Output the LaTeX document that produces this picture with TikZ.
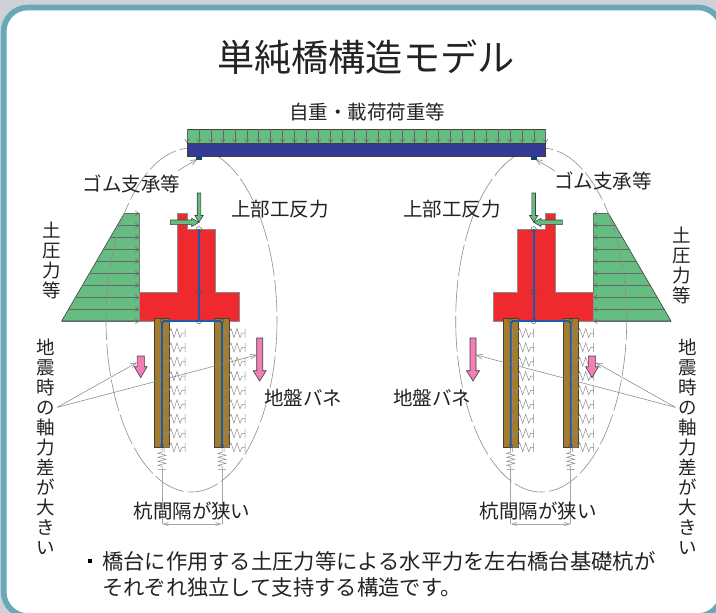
\documentclass[tikz,border=0pt]{standalone}
\usepackage{fontspec}
\usetikzlibrary{arrows.meta}
\newfontfamily\jpfont{Noto Sans CJK JP}
\definecolor{page_gray}{RGB}{207, 209, 216}
\definecolor{frame_teal}{RGB}{104, 168, 184}
\definecolor{load_green}{RGB}{102, 189, 130}
\definecolor{beam_blue}{RGB}{53, 58, 149}
\definecolor{shoe_blue}{RGB}{27, 63, 122}
\definecolor{abut_red}{RGB}{238, 42, 46}
\definecolor{pile_brown}{RGB}{164, 124, 44}
\definecolor{axis_blue}{RGB}{26, 90, 175}
\definecolor{quake_pink}{RGB}{241, 127, 181}
\definecolor{ink}{RGB}{35, 35, 35}
\tikzset{
  lbl/.style={text=ink,inner sep=0pt,font=\fontsize{19.5}{20}\jpfont},
  vlbl/.style={lbl,align=center,font=\fontsize{18.5}{20}\jpfont},
  body/.style={draw=black!75,line width=0.6pt},
  loadarrow/.style={draw=black!60,line width=0.5pt,-{Straight Barb[length=3.5pt,width=4.5pt]}},
  leader/.style={draw=black!50,line width=0.5pt,-{Straight Barb[length=6pt,width=5pt]}},
  spring/.style={draw=black!45,line width=0.5pt},
  dimline/.style={draw=black!35,line width=0.8pt},
  hinge/.style={draw=black!70,line width=0.4pt},
  hspring/.pic={\draw[spring] (2,-4.5)--(2,4.5) (2,0)--(7,0)--(9,-4.5)--(12,4.5)--(15,-4.5)--(18,4.5)--(20,0)--(23,0) (23,-4.5)--(23,4.5);},
  vspring/.pic={\draw[spring] (0,0)--(0,5)--(-4,6)--(4,8)--(-4,10)--(4,12)--(-4,14)--(4,16)--(-4,18)--(0,19)--(0,22) (-4,22)--(4,22);}
}
\newcommand{\abutment}{
  % earth pressure block
  \draw[body,fill=load_green] (124.3,213.3)--(139.3,213.3)--(139.3,321)--(61.7,321)--cycle;
  \foreach \i in {0,...,9}{
    \pgfmathsetmacro{\ys}{213.3+12*\i}
    \pgfmathsetmacro{\xs}{124.3-12*\i*0.5813}
    \draw[draw=black!60,line width=0.5pt] (\xs,\ys)--(139.3,\ys);
    \draw[loadarrow] (131,\ys)--(139.3,\ys);
  }
  \draw[draw=black!45,line width=0.6pt,dash pattern=on 32pt off 4pt] (191.5,320) ellipse [x radius=85.5,y radius=172];
  % abutment body
  \draw[draw=black!45,line width=0.5pt,fill=abut_red] (177.3,213.3)--(187.3,213.3)--(187.3,229.3)--(215.7,229.3)--(215.7,292.3)--(239.7,292.3)--(239.7,321)--(139.3,321)--(139.3,292.3)--(177.3,292.3)--cycle;
  % piles and springs
  \foreach \px in {162,222}{
    \draw[body,fill=pile_brown] (\px-7.5,318.3) rectangle (\px+7.2,447.3);
    \foreach \sy in {333,347.3,361.7,376,390.3,404.3,418.7,433.3,447.3}{
      \pic at (\px,\sy) {hspring};
    }
    \pic at (\px,447.3) {vspring};
    \draw[dimline] (\px,469.3)--(\px,524);
  }
  \draw[dimline,{Straight Barb[length=5pt,width=3pt]}-{Straight Barb[length=5pt,width=3pt]}] (162,524)--(222,524);
  % member axis
  \draw[draw=axis_blue,line width=1.8pt,rounded corners=2.5pt] (162,447)--(162,321)--(222,321)--(222,447);
  \draw[draw=axis_blue,line width=1.8pt] (199,229.3)--(199,321);
  \foreach \hx/\hy in {199/229.3,199/292.3,199/321}{
    \draw[hinge] (\hx,\hy) circle [radius=2.7];
  }
  \foreach \hx/\hy in {162/321,222/321,162/446,222/446}{
    \draw[hinge] (\hx,\hy) circle [radius=2];
  }
  % reaction arrows
  \draw[body,fill=load_green] (197.2,193)--(200.8,193)--(200.8,215.5)--(203.2,215.5)--(199,222)--(194.8,215.5)--(197.2,215.5)--cycle;
  \draw[body,fill=load_green] (170.3,220)--(191.7,220)--(191.7,218.3)--(199,222.3)--(191.7,226.5)--(191.7,224.6)--(170.3,224.6)--cycle;
  % axial force arrows
  \draw[body,fill=quake_pink] (137.1,356)--(144.3,356)--(144.3,366.7)--(147.1,366.7)--(140.7,377.7)--(134.3,366.7)--(137.1,366.7)--cycle;
  \draw[body,fill=quake_pink] (256.7,338)--(262.7,338)--(262.7,370.7)--(266.2,370.7)--(259.7,381)--(253.2,370.7)--(256.7,370.7)--cycle;
  % leaders
  \coordinate (shoeTail) at (178,170.7);
  \coordinate (shoeTip) at (197,159.3);
  \coordinate (quakeTail) at (57.3,407.3);
  \coordinate (smallTip) at (136.7,362.7);
  \coordinate (bigTip) at (256.7,355);
  \draw[leader] (shoeTail)--(shoeTip);
  \draw[leader] (quakeTail)--(smallTip);
  \draw[leader] (quakeTail)--(bigTip);
}
\begin{document}
\begin{tikzpicture}[x=1pt,y=-1pt]
  \useasboundingbox (0,0) rectangle (716,613);
  \clip (0,0) rectangle (716,613);
  \fill[page_gray] (0,0) rectangle (716,613);
  \draw[draw=frame_teal,line width=5.6pt,fill=white,rounded corners=24pt] (3.7,7.5) rectangle (722,616);
  \abutment
  \begin{scope}[xshift=732.7pt,xscale=-1]
    \abutment
  \end{scope}
  % superstructure
  \draw[body,fill=load_green] (187,129.3) rectangle (545.7,143);
  \foreach \i in {0,...,30}{
    \draw[loadarrow] (187+11.957*\i,129.3)--(187+11.957*\i,143);
  }
  \draw[body,fill=beam_blue] (187,143) rectangle (545.7,156);
  \fill[shoe_blue] (196,156) rectangle (202,160);
  \fill[shoe_blue] (530.7,156) rectangle (536.7,160);
  % labels
  \node[lbl,font=\fontsize{37.2}{40}\jpfont] (title) at (366,57) {単純橋構造モデル};
  \node[lbl] (loads) at (367,112) {自重・載荷荷重等};
  \node[lbl] (shoeL) at (131.5,184) {ゴム支承等};
  \node[lbl] (shoeR) at (603,181) {ゴム支承等};
  \node[lbl] (reactL) at (280,209) {上部工反力};
  \node[lbl] (reactR) at (452,209) {上部工反力};
  \node[lbl] (springL) at (303,398) {地盤バネ};
  \node[lbl] (springR) at (432,398) {地盤バネ};
  \node[lbl] (spaceL) at (192,511) {杭間隔が狭い};
  \node[lbl] (spaceR) at (538,511) {杭間隔が狭い};
  \node[vlbl] (earthL) at (51.5,260) {土\\圧\\力\\等};
  \node[vlbl] (earthR) at (681.7,265) {土\\圧\\力\\等};
  \node[vlbl] (quakeL) at (45.5,447) {地\\震\\時\\の\\軸\\力\\差\\が\\大\\き\\い};
  \node[vlbl] (quakeR) at (688,447) {地\\震\\時\\の\\軸\\力\\差\\が\\大\\き\\い};
  \node[lbl,anchor=west,font=\fontsize{21.3}{26}\jpfont] (noteA) at (102,561) {橋台に作用する土圧力等による水平力を左右橋台基礎杭が};
  \node[lbl,anchor=west,font=\fontsize{21.3}{26}\jpfont] (noteB) at (102,587) {それぞれ独立して支持する構造です。};
  \node[fill=black,inner sep=0pt,minimum size=3.6pt] (bullet) at (90,561) {};
\end{tikzpicture}
\end{document}
